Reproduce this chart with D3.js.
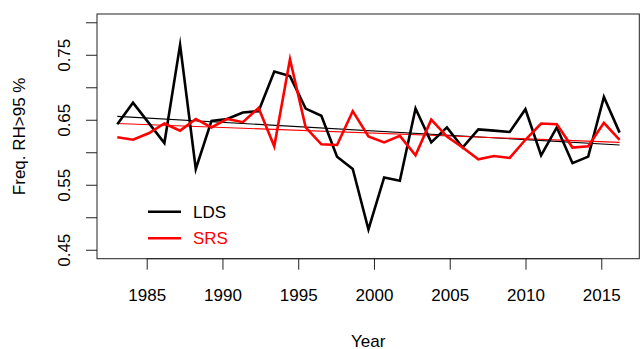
<!DOCTYPE html>
<html><head><meta charset="utf-8">
<script src="https://cdn.jsdelivr.net/npm/d3@7"></script>
<style>body{margin:0;background:#fff}svg{display:block}text{font-family:"Liberation Sans",Arial,Helvetica,sans-serif}</style>
</head><body>
<script>
const years = d3.range(1983, 2016);
const lds = [0.644,0.677,0.646,0.615,0.766,0.575,0.649,0.652,0.662,0.664,0.725,0.718,0.668,0.657,0.594,0.575,0.482,0.562,0.557,0.668,0.616,0.639,0.608,0.636,0.634,0.632,0.667,0.596,0.639,0.584,0.594,0.686,0.631];
const srs = [0.624,0.620,0.630,0.645,0.634,0.652,0.639,0.652,0.647,0.669,0.610,0.744,0.639,0.613,0.612,0.664,0.625,0.616,0.626,0.596,0.651,0.625,0.608,0.590,0.595,0.592,0.620,0.645,0.644,0.608,0.610,0.646,0.620];
const ldsTrend = [0.656, 0.612];
const srsTrend = [0.645, 0.616];
const xTicks = [1985,1990,1995,2000,2005,2010,2015];
const yTicks = [0.45,0.50,0.55,0.60,0.65,0.70,0.75,0.80];
const yLabels = ["0.45","","0.55","","0.65","","0.75",""];
const seriesNames = ["LDS","SRS"];
const colors = ["#000000","#ff0000"];

const W=641,H=349;
const L=97,R=639.3,T=14,B=258.7;
const svg=d3.select("body").append("svg").attr("width",W).attr("height",H);
const x=d3.scaleLinear().domain([1981.72,2017.51]).range([L,R]);
const xd=d3.scaleLinear().domain([1983,2015]).range([x(1983.06),x(2016.21)]);
const y=d3.scaleLinear().domain([0.437,0.8135]).range([B,T]);

// axes
const xa=svg.append("g").attr("transform",`translate(0,${B})`)
  .call(d3.axisBottom(x).tickValues(xTicks).tickFormat(d3.format("d")).tickSize(11).tickPadding(19));
const ya=svg.append("g").attr("transform",`translate(${L},0)`)
  .call(d3.axisLeft(y).tickValues(yTicks).tickFormat((d,i)=>yLabels[i]).tickSize(11).tickPadding(0));
[xa,ya].forEach(g=>{g.select(".domain").remove();g.selectAll("line").attr("stroke","#222").attr("stroke-width",1);
  g.selectAll("text").attr("fill","#000").style("font-size","17px");});
// x domain line (axis line only spans tick range as in R)
svg.append("line").attr("x1",x(1985)).attr("x2",x(2015)).attr("y1",B).attr("y2",B).attr("stroke","#222");
ya.selectAll("text").attr("transform",null).each(function(d){
  d3.select(this).attr("x",null).attr("dy",null).attr("text-anchor","middle")
   .attr("transform",`translate(${70-L},${y(d)}) rotate(-90)`).attr("y",0);
});
ya.selectAll(".tick").attr("transform",d=>"translate(0,0)");
ya.selectAll(".tick line").attr("y1",d=>y(d)).attr("y2",d=>y(d)).attr("x2",-11);

// box
svg.append("rect").attr("x",L).attr("y",T).attr("width",R-L).attr("height",B-T)
  .attr("fill","none").attr("stroke","#222").attr("stroke-width",1);

// trend lines
[ldsTrend,srsTrend].forEach((t,i)=>{
  svg.append("line").attr("x1",xd(years[0])).attr("x2",xd(years[years.length-1]))
   .attr("y1",y(t[0])).attr("y2",y(t[1])).attr("stroke",colors[i]).attr("stroke-width",1.1);
});
// series
const line=d3.line().x((d,i)=>xd(years[i])).y(d=>y(d));
[lds,srs].forEach((s,i)=>{
  svg.append("path").datum(s).attr("d",line).attr("fill","none").attr("stroke",colors[i])
   .attr("stroke-width",2.6).attr("stroke-linejoin","miter").attr("stroke-miterlimit",10);
});

// titles
svg.append("text").attr("x",(L+R)/2).attr("y",346.5).attr("text-anchor","middle").style("font-size","17px").text("Year");
svg.append("text").attr("transform",`translate(24.5,${(T+B)/2}) rotate(-90)`).attr("text-anchor","middle").style("font-size","17px").text("Freq. RH>95 %");

// legend
const leg=svg.append("g");
seriesNames.forEach((n,i)=>{
  const yy=211.7+i*26.5;
  leg.append("line").attr("x1",148).attr("x2",181).attr("y1",yy).attr("y2",yy).attr("stroke",colors[i]).attr("stroke-width",2.6);
  leg.append("text").attr("x",193).attr("y",yy+5.8).style("font-size","17px").attr("fill",colors[i]).text(n);
});
</script>
</body></html>
